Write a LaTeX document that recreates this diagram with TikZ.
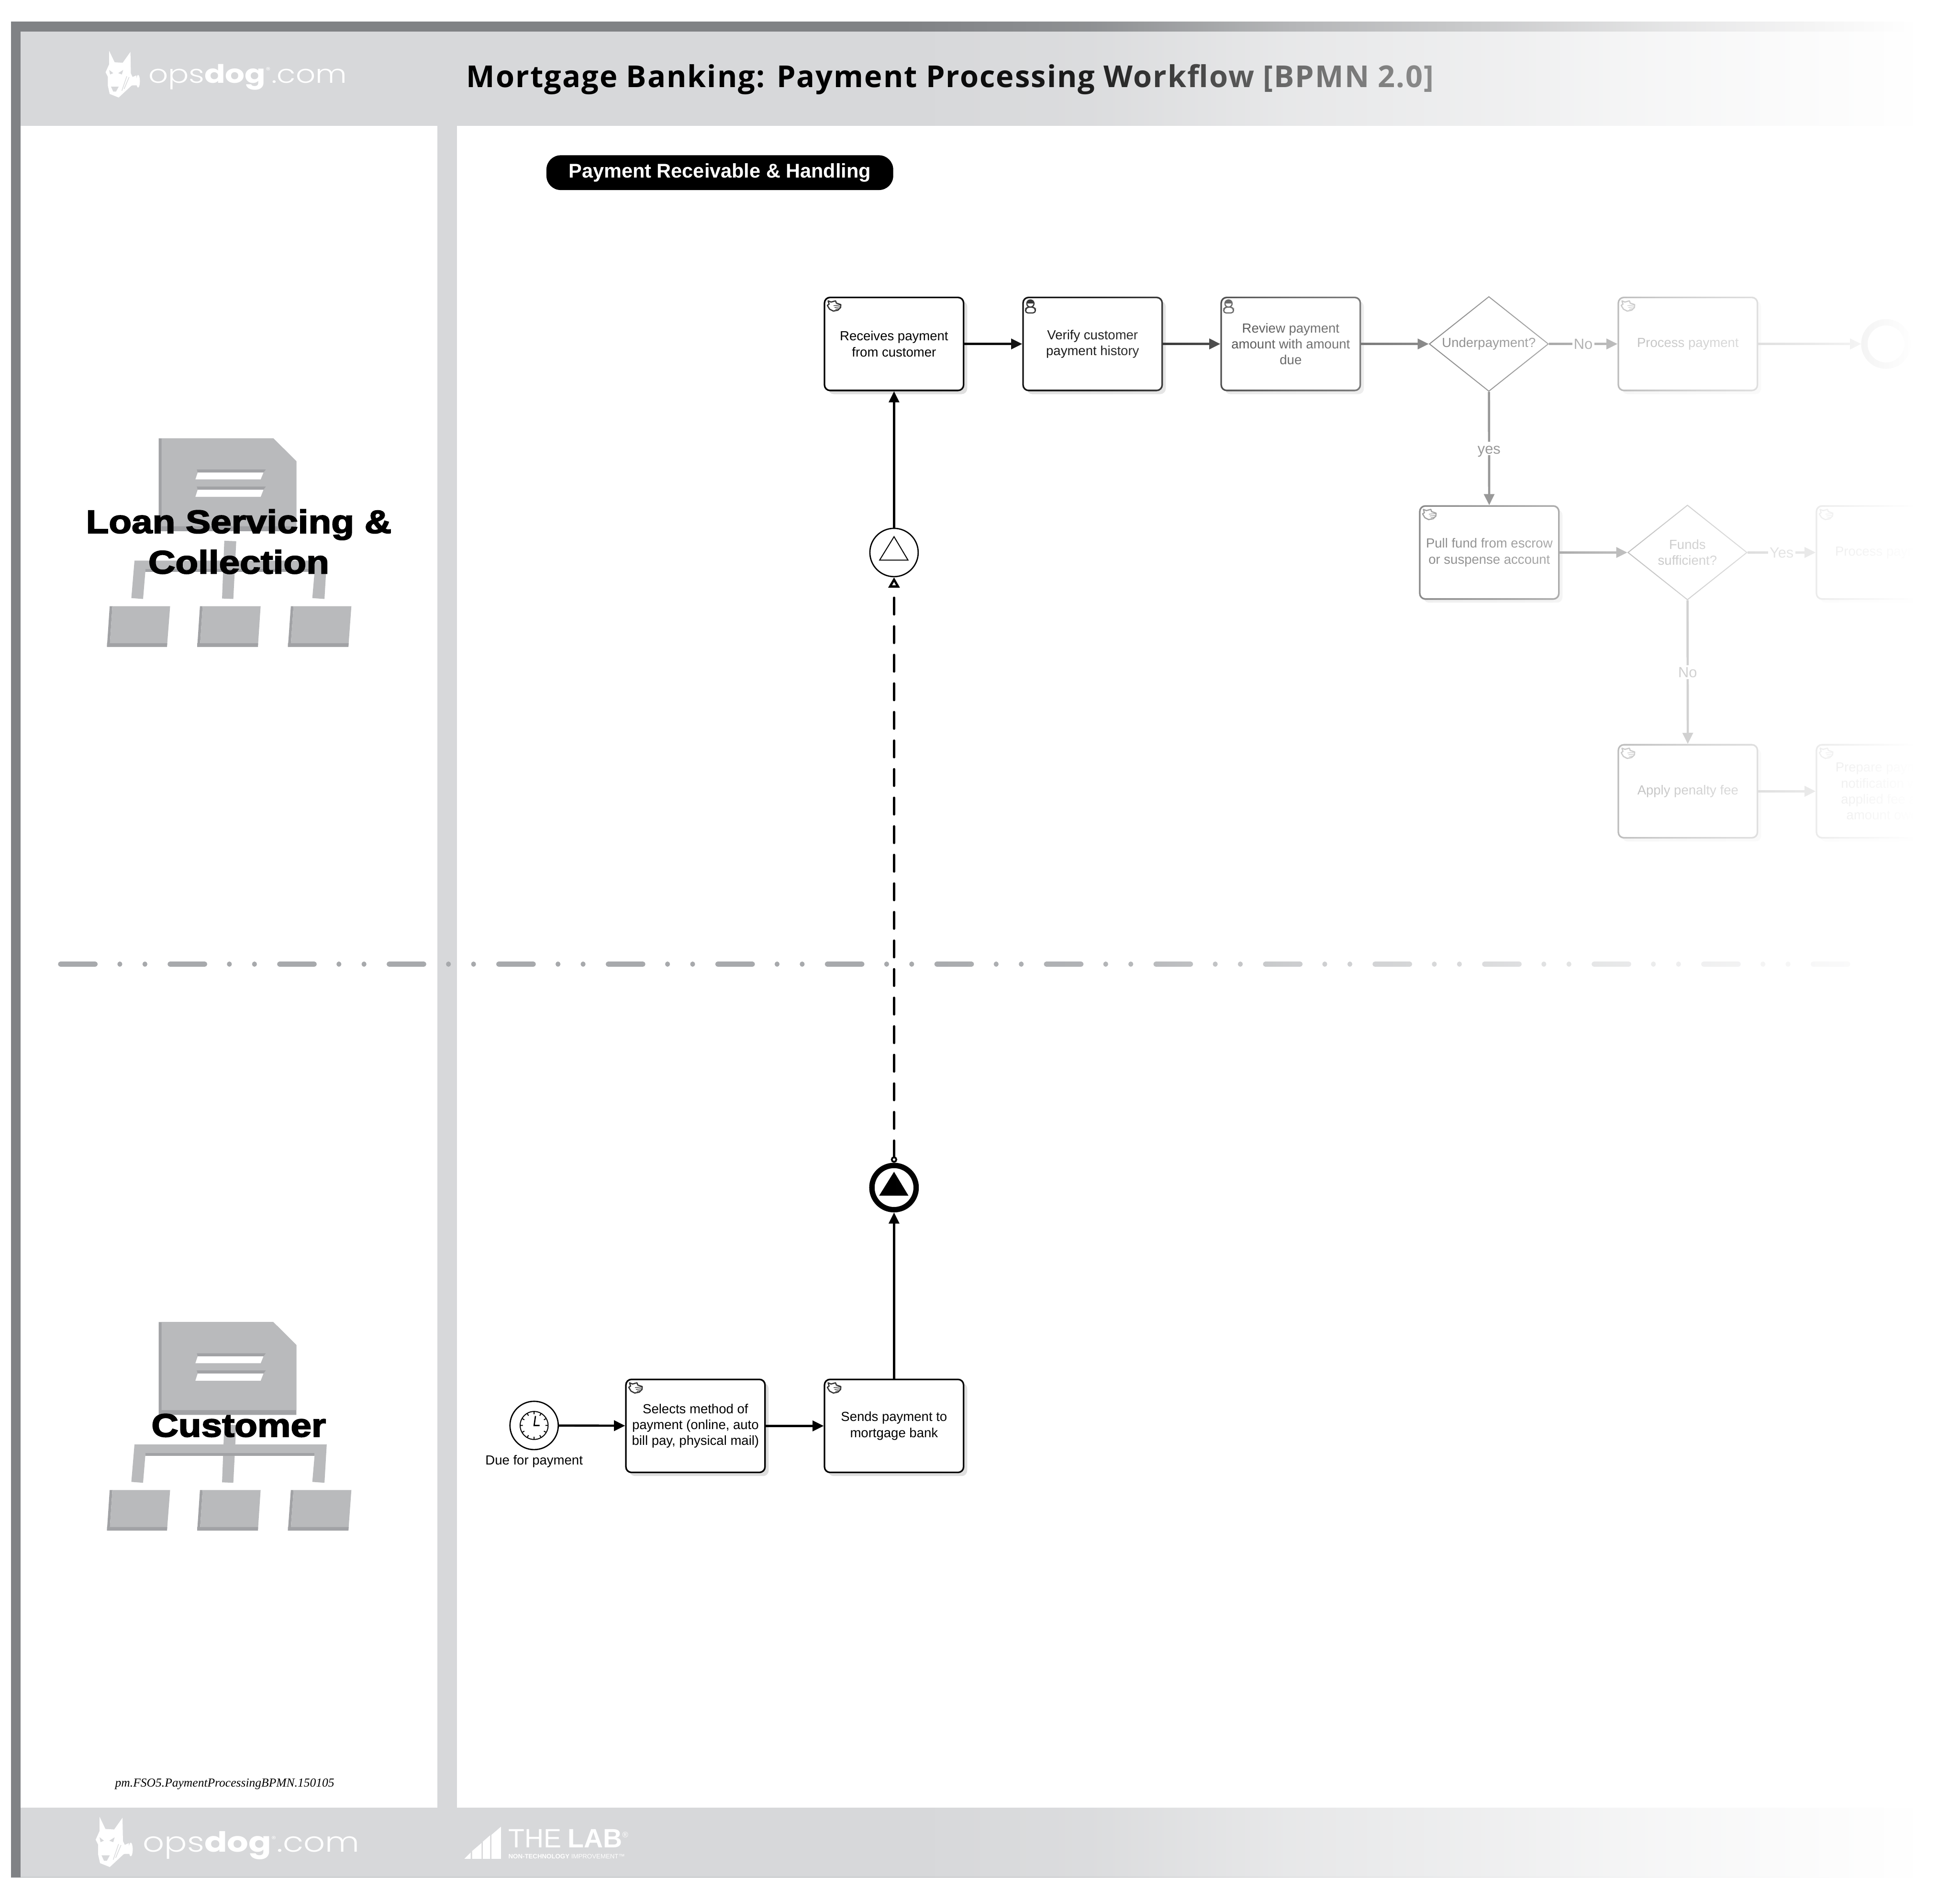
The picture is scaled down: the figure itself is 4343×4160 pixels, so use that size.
\documentclass[tikz,border=0pt]{standalone}
\usepackage{fontspec}
\setmainfont{Liberation Sans}
\newfontfamily\titlefont{Open Sans}[LetterSpace=3.3]
\newfontfamily\logofont{Poppins}[UprightFont=* Light, BoldFont=* Bold, FakeStretch=1.21]
\newfontfamily\lanefont{Liberation Sans}[BoldFeatures={FakeBold=3, FakeStretch=1.15}]
\newfontfamily\codefont{Liberation Serif}
\usetikzlibrary{calc, positioning, arrows.meta, shapes.geometric, shadows, fadings}
\definecolor{framegray}{HTML}{808285}
\definecolor{bandgray}{HTML}{D7D8DA}
\definecolor{orgmain}{HTML}{B9BABC}
\definecolor{orgdark}{HTML}{A1A2A5}
\definecolor{lanegray}{HTML}{A7A9AC}
\pgfdeclarehorizontalshading{fadeshade}{100bp}{color(0bp)=(transparent!100); color(26.75bp)=(transparent!100); color(36.15bp)=(transparent!88); color(45.5bp)=(transparent!58); color(55bp)=(transparent!40); color(64.3bp)=(transparent!18); color(75bp)=(transparent!0); color(100bp)=(transparent!0)}
\pgfdeclarefading{faderight}{\pgfuseshading{fadeshade}}
\tikzstyle{task}=[draw, shape=rectangle, rounded corners=3.5pt, line width=1pt, fill=white, minimum width=3.08cm, minimum height=2.06cm, inner sep=0pt, align=center, font=\fontsize{8.3}{10}\selectfont, general shadow={fill=black!13, shadow xshift=2.3pt, shadow yshift=-2.3pt}]
\tikzstyle{gate}=[draw, shape=diamond, line width=.6pt, fill=white, aspect=1.26, minimum width=2.64cm, minimum height=2.1cm, inner sep=0pt, align=center, font=\fontsize{8.3}{10}\selectfont]
\tikzstyle{evt}=[draw, shape=circle, line width=.8pt, fill=white, minimum size=1.07cm, inner sep=0pt]
\tikzstyle{flow}=[line width=1.4pt]
\tikzstyle{lbl}=[fill=white, inner sep=1pt, text height=6.6pt, text depth=0pt, font=\fontsize{9.3}{10}\selectfont]
\tikzstyle{lane}=[align=center, font=\lanefont\bfseries\fontsize{20.5}{25.5}\selectfont]
\tikzset{>={Triangle[length=7pt, width=6.5pt]}}
\tikzset{handicon/.pic={
  \draw[line width=.75pt, draw=black!80, fill=white, line join=round] (9.7,9.3) -- (16.3,12) -- (26.3,9.3) -- (28,14.3) -- (38,17.7) -- (37.3,24.3) -- (31.3,30) -- (21.3,32) -- (13,27.7) -- (8,19.3) -- (12,16.7) -- cycle;
  \draw[line width=.4pt, draw=black!80] (22,20) -- (37,18.5) (24,24) -- (36,22.5) (26,28) -- (33,26.5);
}}
\tikzset{usericon/.pic={
  \draw[line width=.75pt, draw=black!85, fill=white, rounded corners=1.5pt] (7,36) -- (7.7,27) -- (12,23) -- (24,23) -- (29,27) -- (29,36) -- cycle;
  \draw[line width=.75pt, draw=black!85, fill=white] (18,15.3) circle (8);
  \fill[black!85] (10,15.3) arc (180:360:8) -- cycle;
}}
\tikzset{clockicon/.pic={
  \draw[line width=.6pt] (0,0) circle (31);
  \draw[line width=.6pt] (0:25) -- (0:31) (30:25) -- (30:31) (60:25) -- (60:31) (90:25) -- (90:31) (120:25) -- (120:31) (150:25) -- (150:31) (180:25) -- (180:31) (210:25) -- (210:31) (240:25) -- (240:31) (270:25) -- (270:31) (300:25) -- (300:31) (330:25) -- (330:31);
  \draw[line width=.8pt] (3,-21) -- (0,0) -- (12,0);
}}
\tikzset{doglogo/.pic={
  \fill[white] (8,0) -- (20,25) -- (38,26) -- (55,2) -- (56,50) -- (61,60) -- (64,74) -- (57,77) -- (29,103) -- (9,95) -- (5,77) -- (5,57) -- (0,47) -- (8,29) -- cycle;
  \fill[white] (50,62) -- (68,54) -- (70,76) -- (56,76) -- cycle;
  \fill[white] (72,67) ellipse (4 and 14);
  \fill[bandgray] (8,42) -- (17,49) -- (10,52) -- cycle (28,49) -- (39,42) -- (36,52) -- cycle;
  \fill[bandgray] (12,79) -- (29,79) -- (23,90) -- (17,90) -- cycle;
  \draw[bandgray, line width=.4pt] (47,56) -- (36,88) (52,58) -- (41,84);
}}
\tikzset{orgicon/.pic={
  \fill[orgdark] (351.5,971) -- (605.6,971) -- (656.6,1021.7) -- (656.6,1176.7) -- (351.5,1176.7) -- cycle;
  \fill[orgmain] (358,971) -- (605.6,971) -- (656.6,1021.7) -- (656.6,1166) -- (358,1166) -- cycle;
  \fill[orgdark] (436,1040) -- (589,1040) -- (583.7,1047) -- (438,1047) -- cycle (436,1078) -- (589,1078) -- (583.7,1085) -- (438,1085) -- cycle;
  \fill[white] (438,1047) -- (583.7,1047) -- (577.6,1062) -- (433,1062) -- cycle (438,1085) -- (583.7,1085) -- (577.6,1100.7) -- (433,1100.7) -- cycle;
  \fill[orgmain] (497,1198) -- (523.5,1199) -- (517,1327) -- (492,1326) -- cycle;
  \fill[orgmain] (298,1242) -- (724,1242) -- (719,1327) -- (692,1325) -- (697,1267) -- (322,1267) -- (317,1327) -- (291,1325) -- cycle;
  \fill[orgdark] (322,1261) -- (697,1261) -- (697,1267) -- (322,1267) -- cycle;
  \fill[orgdark] (243,1343) -- (249,1343) -- (243,1433) -- (237,1433) -- cycle (443,1343) -- (449,1343) -- (443,1433) -- (437,1433) -- cycle (644.4,1343) -- (650.4,1343) -- (644,1433) -- (638,1433) -- cycle;
  \fill[orgmain] (249,1343) -- (377,1343) -- (370,1433) -- (243,1433) -- cycle (449,1343) -- (577.5,1343) -- (571.5,1433) -- (443,1433) -- cycle (650.4,1343) -- (778.6,1343) -- (772,1433) -- (644,1433) -- cycle;
  \fill[orgdark] (237,1425) -- (370.6,1425) -- (370,1433) -- (237,1433) -- cycle (437,1425) -- (572,1425) -- (571.5,1433) -- (437,1433) -- cycle (638,1425) -- (772.6,1425) -- (772,1433) -- (638,1433) -- cycle;
}}

\begin{document}
\begin{tikzpicture}[x=0.01cm, y=-0.01cm]
\useasboundingbox (0,0) rectangle (4343,4160);
% frame
\fill[framegray] (24,48) rectangle (4343,70);
\fill[framegray] (24,48) rectangle (46,4160);
\fill[bandgray] (46,70) rectangle (4343,279);
\fill[bandgray] (969,279) rectangle (1013,4005);
\fill[bandgray] (46,4005) rectangle (4343,4160);
\fill[lanegray] (46,4158) rectangle (4343,4160);
%
\pic at (234,113) {doglogo};
\node[anchor=base west, inner sep=0pt, text=white, font=\logofont\fontsize{16}{16}\selectfont] (logoTop) at (328,184) {ops\textbf{dog}\textsuperscript{\tiny ®}.com};
\pic[scale=1.08] at (212,4025) {doglogo};
\node[anchor=base west, inner sep=0pt, text=white, font=\logofont\fontsize{17.5}{17.5}\selectfont] (logoBot) at (316,4103) {ops\textbf{dog}\textsuperscript{\tiny ®}.com};
\node[anchor=base west, inner sep=0pt, font=\titlefont\bfseries\fontsize{19}{19}\selectfont] (ttl) at (1033,193) {Mortgage Banking: Payment Processing Workflow [BPMN 2.0]};
\fill[white] (1029,4118) -- (1043,4104) -- (1043,4118) -- cycle (1046,4101) -- (1067,4083) -- (1067,4118) -- (1046,4118) -- cycle (1070,4080) -- (1086,4066) -- (1086,4118) -- (1070,4118) -- cycle (1089,4065) -- (1110,4047) -- (1110,4118) -- (1089,4118) -- cycle;
\node[anchor=base west, inner sep=0pt, text=white, font=\fontsize{16.7}{17}\selectfont] (labName) at (1126,4093) {THE\hspace{4pt}\textbf{LAB}\textsuperscript{\tiny ®}};
\node[anchor=base west, inner sep=0pt, text=white, font=\fontsize{4}{4}\selectfont] (labSub) at (1126,4118) {\textbf{NON-TECHNOLOGY} IMPROVEMENT™};
%
\pic at (0,0) {orgicon};
\pic at (0,1958) {orgicon};
\node[lane] (laneLoan) at (529,1200) {Loan Servicing \&\\Collection};
\node[lane] (laneCust) at (529,3158) {Customer};
\node[inner sep=0pt, font=\codefont\itshape\fontsize{7.7}{8}\selectfont] (code) at (498,3952) {pm.FSO5.PaymentProcessingBPMN.150105};
%
\node[fill=black, text=white, rounded corners=9pt, minimum width=7.68cm, minimum height=.77cm, inner sep=0pt, font=\bfseries\fontsize{12.5}{12.5}\selectfont] (phase) at (1595,382.5) {Payment Receivable \& Handling};
%
\coordinate (laneA) at (134,2136);
\coordinate (laneB) at (4100,2136);
\draw[lanegray, line width=3.1pt, line cap=round, dash pattern=on 21.9pt off 15.5pt on 0.01pt off 15.8pt on 0.01pt off 15.8pt] (laneA) -- (laneB);
%
\node[evt] (due) at (1183.5,3158) {};
\pic at (due) {clockicon};
\node[inner sep=0pt, font=\fontsize{8.3}{10}\selectfont] (dueLbl) at (1183.5,3238) {Due for payment};
\node[task] (sel) at (1541,3159) {Selects method of\\payment (online, auto\\bill pay, physical mail)};
\node[task] (snd) at (1981,3159) {Sends payment to\\mortgage bank};
\node[evt, line width=3.4pt, minimum size=.98cm] (send) at (1981,2631) {};
\fill[black] (1981,2596) -- (2013,2649) -- (1948,2649) -- cycle;
\node[evt] (catch) at (1981,1224) {};
\draw[line width=.6pt] (1981,1189) -- (2012,1241) -- (1949,1241) -- cycle;
\node[task] (tskA) at (1981,762) {Receives payment\\from customer};
\node[task] (tskB) at (2421,762) {Verify customer\\payment history};
\node[task] (tskC) at (2860,762) {Review payment\\amount with amount\\due};
\node[gate] (under) at (3299,762) {Underpayment?};
\node[task] (proc) at (3740,762) {Process payment};
\node[evt, line width=4pt, minimum size=.96cm] (endev) at (4179,762) {};
\node[task] (pull) at (3300,1224) {Pull fund from escrow\\or suspense account};
\node[gate] (funds) at (3739,1224) {Funds\\sufficient?};
\node[task] (procB) at (4179,1224) {Process payment};
\node[task] (apply) at (3740,1753) {Apply penalty fee};
\node[task] (prep) at (4179,1753) {Prepare payment\\notification with\\applied fee and\\amount owed};
%
\pic at (sel.north west) {handicon};
\pic at (snd.north west) {handicon};
\pic at (tskA.north west) {handicon};
\pic at (tskB.north west) {usericon};
\pic at (tskC.north west) {usericon};
\pic at (proc.north west) {handicon};
\pic at (pull.north west) {handicon};
\pic at (procB.north west) {handicon};
\pic at (apply.north west) {handicon};
\pic at (prep.north west) {handicon};
%
\draw[flow, ->] (due) -- (sel);
\draw[flow, ->] (sel) -- (snd);
\draw[flow, ->] (snd) -- (send);
\draw[flow, dash pattern=on 10.5pt off 7.5pt, line cap=round, {Circle[open, length=4pt, width=4pt, line width=1.1pt]}-{Triangle[open, length=6.5pt, width=7pt, line width=1.4pt]}] (send) -- (catch);
\draw[flow, ->] (catch) -- (tskA);
\draw[flow, ->] (tskA) -- (tskB);
\draw[flow, ->] (tskB) -- (tskC);
\draw[flow, ->] (tskC) -- (under);
\draw[flow, ->] (under) -- node[lbl] (lblNoA) {No} (proc);
\draw[flow, ->] (proc) -- (endev);
\draw[flow, ->] (under) -- node[lbl] (lblYes) {yes} (pull);
\draw[flow, ->] (pull) -- (funds);
\draw[flow, ->] (funds) -- node[lbl] (lblYesB) {Yes} (procB);
\draw[flow, ->] (funds) -- node[lbl] (lblNoB) {No} (apply);
\draw[flow, ->] (apply) -- (prep);
% fade to the right
\fill[white, path fading=faderight] (1900,0) rectangle (4240,4160);
\fill[white] (4238,0) rectangle (4343,4160);
\end{tikzpicture}
\end{document}
